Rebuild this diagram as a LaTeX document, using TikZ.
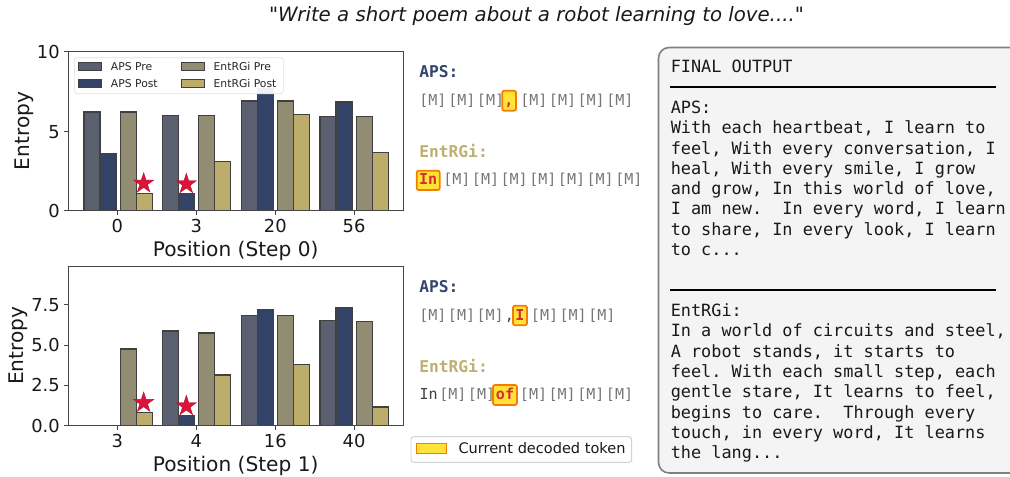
\documentclass[tikz,border=0pt]{standalone}
\usepackage{fontspec}
\setmainfont{DejaVu Sans}
\setmonofont{DejaVu Sans Mono}
\newfontfamily\titlefont{DejaVu Sans}
\usetikzlibrary{shapes.geometric}
\definecolor{apspre}{HTML}{5A6070}
\definecolor{apspost}{HTML}{334368}
\definecolor{entpre}{HTML}{918C72}
\definecolor{entpost}{HTML}{BCAD6A}
\definecolor{apshead}{HTML}{344570}
\definecolor{enthead}{HTML}{BDAF70}
\definecolor{tokgrey}{HTML}{777777}
\definecolor{hlfill}{HTML}{FFE338}
\definecolor{hledge}{HTML}{F57C00}
\definecolor{hltext}{HTML}{D32F2F}
\definecolor{crim}{HTML}{DC143C}
\definecolor{boxfill}{HTML}{F4F4F4}
\definecolor{boxedge}{HTML}{808080}
\definecolor{axisc}{HTML}{444444}
\tikzset{
  barbase/.style={draw=black!75, line width=.85pt},
  axbox/.style={draw=axisc, line width=.7pt},
  tick/.style={draw=axisc, line width=.6pt},
  ticklab/.style={font=\fontsize{13.4}{15}\selectfont, inner sep=0pt, text=black!90},
  axlab/.style={font=\fontsize{15.1}{17}\selectfont, inner sep=0pt, text=black!90},
  leglab/.style={font=\fontsize{8.1}{9}\selectfont, inner sep=0pt, anchor=west, text=black!85},
  redstar/.style={star, star points=5, star point ratio=2.618, minimum size=16pt, inner sep=0pt, fill=crim, draw=crim!80!black, line width=.3pt},
  tok/.style={font=\ttfamily\fontsize{11.3}{13}\selectfont, text=tokgrey, inner sep=0pt, anchor=base west},
  plain/.style={font=\ttfamily\fontsize{11.3}{13}\selectfont, text=black!75, inner sep=0pt, anchor=base},
  hl/.style={draw=hledge, fill=hlfill, line width=1.3pt, rounded corners=1.5pt},
  hltok/.style={font=\ttfamily\bfseries\fontsize{11.3}{13}\selectfont, text=hltext, inner sep=0pt, anchor=base},
  head/.style={font=\ttfamily\bfseries\fontsize{12.2}{14}\selectfont, inner sep=0pt, anchor=base west},
  mono/.style={font=\ttfamily\fontsize{12.65}{15.2}\selectfont, inner sep=0pt, anchor=north west, align=left, text=black!90},
}
\newcommand{\bargroup}[8]{%
  \fill[apspre] (#1,#2) rectangle ({#1+48},#8);
  \draw[barbase] (#1,#8) -- (#1,#2) -- ({#1+48},#2) -- ({#1+48},#8);
  \fill[apspost] ({#1+48},#3) rectangle ({#1+96},#8);
  \draw[barbase] ({#1+48},#8) -- ({#1+48},#3) -- ({#1+96},#3) -- ({#1+96},#8);
  \fill[entpre] ({#1+108.5},#4) rectangle ({#1+157},#8);
  \draw[barbase] ({#1+108.5},#8) -- ({#1+108.5},#4) -- ({#1+157},#4) -- ({#1+157},#8);
  \fill[entpost] ({#1+157},#5) rectangle ({#1+204.5},#8);
  \draw[barbase] ({#1+157},#8) -- ({#1+157},#5) -- ({#1+204.5},#5) -- ({#1+204.5},#8);
}
\begin{document}
\begin{tikzpicture}[x=.75pt,y=-.75pt]
\useasboundingbox (0,0) rectangle (1010,476);
\clip (0,0) rectangle (1010,476);
\node[font=\titlefont\itshape\fontsize{14.8}{17}\selectfont, inner sep=0pt, text=black!90] (title) at (536.5,16) {"Write a short poem about a robot learning to love...."};

% ---- chart 1 (zoom units)
\begin{scope}[x=.25pt,y=-.25pt,yshift=-22.5pt]
  \bargroup{252}{246}{370}{246}{490}{}{}{542}
  \bargroup{487}{256}{490}{256}{395}{}{}{542}
  \bargroup{724}{213}{175}{213}{253}{}{}{542}
  \bargroup{960}{260}{216}{260}{367}{}{}{542}
  \draw[axbox] (205,65) rectangle (1210,542);
  \foreach \y/\l in {542/0,305/5,65/10}{
    \draw[tick] (193,\y) -- (205,\y);
    \node[ticklab,anchor=east] (c1y\l) at (180,\y) {\l};
  }
  \foreach \x/\l in {352/0,589/3,826/20,1062/56}{
    \draw[tick] (\x,542) -- (\x,554);
    \node[ticklab,anchor=base] (c1x\l) at (\x,607) {\l};
  }
  \node[axlab,anchor=base] (c1xl) at (707,679) {Position (Step 0)};
  \node[axlab,rotate=90,anchor=base] (c1yl) at (88,303) {Entropy};
  \fill[white,opacity=.93] (223,83) rectangle (850,191);
  \draw[black!12,line width=.5pt,rounded corners=2pt] (223,83) rectangle (850,191);
  \draw[fill=apspre,draw=black!75,line width=.7pt] (235,97) rectangle (305,122);
  \draw[fill=apspost,draw=black!75,line width=.7pt] (235,147) rectangle (305,172);
  \draw[fill=entpre,draw=black!75,line width=.7pt] (545,97) rectangle (613,122);
  \draw[fill=entpost,draw=black!75,line width=.7pt] (545,147) rectangle (613,172);
  \node[leglab] (lg1) at (332,110) {APS Pre};
  \node[leglab] (lg2) at (332,160) {APS Post};
  \node[leglab] (lg3) at (640,110) {EntRGi Pre};
  \node[leglab] (lg4) at (640,160) {EntRGi Post};
  \node[redstar] (s1) at (431,460) {};
  \node[redstar] (s2) at (559,462) {};
\end{scope}

% ---- chart 2 (zoom units)
\begin{scope}[x=.25pt,y=-.25pt,yshift=-191.25pt]
  \draw[barbase] (252,512) -- (347,512);
  \fill[entpre] (360.5,282) rectangle (409,512);
  \draw[barbase] (360.5,512) -- (360.5,282) -- (409,282) -- (409,512);
  \fill[entpost] (409,472) rectangle (456.5,512);
  \draw[barbase] (409,512) -- (409,472) -- (456.5,472) -- (456.5,512);
  \bargroup{487}{228}{482}{234}{360}{}{}{512}
  \bargroup{724}{182}{163}{181}{328}{}{}{512}
  \bargroup{960}{196}{158}{199}{456}{}{}{512}
  \draw[axbox] (205,35) rectangle (1210,512);
  \foreach \y/\l in {512/0.0,391/2.5,270/5.0,149/7.5}{
    \draw[tick] (193,\y) -- (205,\y);
    \node[ticklab,anchor=east] (c2y\l) at (180,\y) {\l};
  }
  \foreach \x/\l in {352/3,589/4,826/16,1062/40}{
    \draw[tick] (\x,512) -- (\x,524);
    \node[ticklab,anchor=base] (c2x\l) at (\x,577) {\l};
  }
  \node[axlab,anchor=base] (c2xl) at (707,649) {Position (Step 1)};
  \node[axlab,rotate=90,anchor=base] (c2yl) at (70,272) {Entropy};
  \node[redstar] (s3) at (431,443) {};
  \node[redstar] (s4) at (559,453) {};
\end{scope}

% ---- token panels
\node[head,text=apshead] (h1) at (419,77) {APS:};
\node[head,text=enthead] (h2) at (419,157) {EntRGi:};
\node[head,text=apshead] (h3) at (419,292) {APS:};
\node[head,text=enthead] (h4) at (419,372) {EntRGi:};

\foreach \x [count=\i] in {419,448,476.7,520,548.7,577.3,606}{
  \node[tok] (ta\i) at (\x,105) {[M]};
}
\draw[hl] (502.3,90.7) rectangle (516,110.7);
\node[hltok] (ta) at (509,105) {,};

\draw[hl] (416.7,170.7) rectangle (439.7,190);
\node[hltok] (tb) at (428.2,184.5) {In};
\foreach \x [count=\i] in {443,471.7,500.3,529,557.7,586.3,615}{
  \node[tok] (tbb\i) at (\x,184.5) {[M]};
}

\foreach \x [count=\i] in {419,447.7,476.3,530.7,559.3,588}{
  \node[tok] (tc\i) at (\x,320.5) {[M]};
}
\node[plain] (tcc) at (509.3,320.5) {,};
\draw[hl] (513,305.7) rectangle (527,325.3);
\node[hltok] (tci) at (520,320.5) {I};

\node[plain] (tdin) at (428.7,399.5) {In};
\foreach \x [count=\i] in {439,467.7,519.7,548.3,577,605.7}{
  \node[tok] (td\i) at (\x,399.5) {[M]};
}
\draw[hl] (493,385) rectangle (517,405);
\node[hltok] (tdo) at (505,399.5) {of};

% ---- token legend
\draw[black!18,fill=white,line width=.7pt,rounded corners=2pt] (411,436.7) rectangle (631.7,462.3);
\draw[fill=hlfill,draw=hledge,line width=.8pt] (416.7,443.3) rectangle (446.7,453.3);
\node[font=\fontsize{10.9}{12}\selectfont,inner sep=0pt,anchor=base west,text=black!90] (lgt) at (458.3,453) {Current decoded token};

% ---- final output panel
\draw[fill=boxfill,draw=boxedge,line width=1.2pt,rounded corners=8pt] (658.5,47.5) rectangle (1030,473);
\node[mono] (fo) at (670.5,60) {FINAL OUTPUT};
\draw[black,line width=1.5pt] (670,87) -- (996,87);
\node[mono] (apsout) at (670.5,100.8) {APS:\\With each heartbeat, I learn to\\feel, With every conversation, I\\heal, With every smile, I grow\\and grow, In this world of love,\\I am new.\ \ In every word, I learn\\to share, In every look, I learn\\to c...};
\draw[black,line width=1.5pt] (670,290) -- (996,290);
\node[mono] (entout) at (670.5,303.6) {EntRGi:\\In a world of circuits and steel,\\A robot stands, it starts to\\feel. With each small step, each\\gentle stare, It learns to feel,\\begins to care.\ \ Through every\\touch, in every word, It learns\\the lang...};
\end{tikzpicture}
\end{document}
